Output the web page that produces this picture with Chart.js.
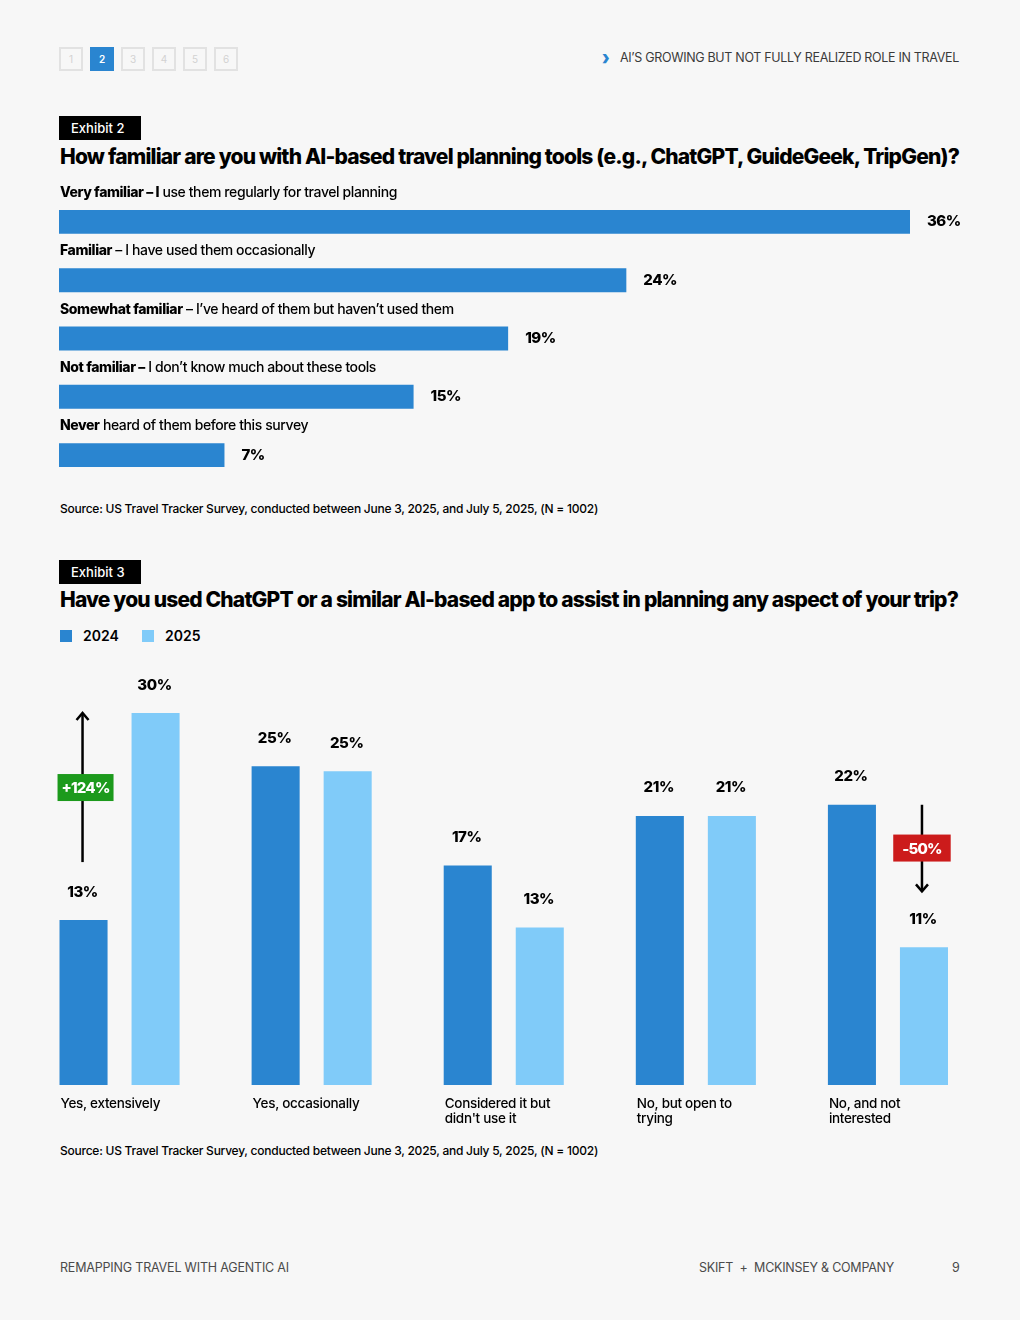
<!DOCTYPE html>
<html><head><meta charset="utf-8">
<script src="https://cdn.jsdelivr.net/npm/chart.js@4.4.1/dist/chart.umd.min.js"></script>
<style>
html,body{margin:0;padding:0;background:#f7f7f7;}
body{width:1020px;height:1320px;position:relative;overflow:hidden;font-family:Inter,"Noto Sans",sans-serif;color:#000;}
.t{position:absolute;white-space:nowrap;}
.pg{position:absolute;top:47px;width:20px;height:20px;border:2px solid #e2e2e2;color:#d2d2d2;font-size:10px;text-align:center;line-height:20px;}
.pg.on{background:#2a85d0;border-color:#2a85d0;color:#fff;font-weight:600;}
.exh{position:absolute;left:59px;width:82px;height:24px;background:#000;color:#fff;font-size:13px;font-weight:500;line-height:24px;padding-left:12px;box-sizing:border-box;}
.title{font-size:21px;font-weight:800;line-height:24px;left:60px;}
.src{font-size:12px;line-height:16px;left:60px;font-weight:500;}
.hdr{font-size:12.5px;line-height:16px;color:#3a3a3a;}
.ft{font-size:12.5px;line-height:16px;color:#4a4a4a;}
.sq{position:absolute;width:12px;height:12px;top:630px;}
.lg{font-size:14px;font-weight:600;line-height:16px;top:628px;}
canvas{position:absolute;left:0;}
</style></head>
<body>
<div class="pg" style="left:59px">1</div>
<div class="pg on" style="left:90px">2</div>
<div class="pg" style="left:121px">3</div>
<div class="pg" style="left:152px">4</div>
<div class="pg" style="left:183px">5</div>
<div class="pg" style="left:214px">6</div>
<div class="t" style="left:602px;top:47px;color:#2a85d0;font-weight:900;font-size:20px;line-height:22px;transform:scaleX(0.8);transform-origin:left;">›</div>
<div class="t hdr fit" data-w="339" style="left:620px;top:50px;">AI’S GROWING BUT NOT FULLY REALIZED ROLE IN TRAVEL</div>

<div class="exh" style="top:116px">Exhibit 2</div>
<div class="t title fit" data-w="899" style="top:145px">How familiar are you with AI-based travel planning tools (e.g., ChatGPT, GuideGeek, TripGen)?</div>
<canvas id="c1" width="1020" height="310" style="top:180px"></canvas>
<div class="t src fit" data-w="538" style="top:501px">Source: US Travel Tracker Survey, conducted between June 3, 2025, and July 5, 2025, (N = 1002)</div>

<div class="exh" style="top:560px">Exhibit 3</div>
<div class="t title fit" data-w="898" style="top:588px">Have you used ChatGPT or a similar AI-based app to assist in planning any aspect of your trip?</div>
<div class="sq" id="sq1" style="left:60px"></div><div class="t lg" style="left:83px">2024</div>
<div class="sq" id="sq2" style="left:142px"></div><div class="t lg" style="left:165px">2025</div>
<canvas id="c2" width="1020" height="480" style="top:660px"></canvas>
<div class="t src fit" data-w="538" style="top:1143px">Source: US Travel Tracker Survey, conducted between June 3, 2025, and July 5, 2025, (N = 1002)</div>

<div class="t ft fit" data-w="229" style="left:60px;top:1260px">REMAPPING TRAVEL WITH AGENTIC AI</div>
<div class="t ft fit" data-w="195" style="left:699px;top:1260px">SKIFT&nbsp; + &nbsp;MCKINSEY &amp; COMPANY</div>
<div class="t ft" style="left:952px;top:1260px">9</div>

<script>
// ---------- DATA ----------
const familiarityBold = ['Very familiar – I', 'Familiar', 'Somewhat familiar', 'Not familiar –', 'Never'];
const familiarityRest = [' use them regularly for travel planning', ' – I have used them occasionally', ' – I’ve heard of them but haven’t used them', ' I don’t know much about these tools', ' heard of them before this survey'];
const familiarityValues = [36, 24, 19, 15, 7];

const usageCategories = [['Yes, extensively'], ['Yes, occasionally'], ['Considered it but', 'didn\'t use it'], ['No, but open to', 'trying'], ['No, and not', 'interested']];
const usage2024 = [13.3, 25.7, 17.7, 21.7, 22.6];
const usage2025 = [30, 25.3, 12.7, 21.7, 11.1];
const usageLabels2024 = ['13%', '25%', '17%', '21%', '22%'];
const usageLabels2025 = ['30%', '25%', '13%', '21%', '11%'];
const usageChange = ['+124%', '', '', '', '-50%'];
const seriesNames = ['2024', '2025'];

// ---------- STYLE ----------
const DARK = '#2a85d0', LIGHT = '#80cbf9', GREEN = '#1c9a1c', RED = '#cc1b1b';
document.getElementById('sq1').style.background = DARK;
document.getElementById('sq2').style.background = LIGHT;

document.querySelectorAll('.fit').forEach(el => {
  const w = +el.dataset.w;
  const nat = el.getBoundingClientRect().width;
  const n = el.textContent.length;
  el.style.letterSpacing = ((w - nat) / n) + 'px';
});

const base = {
  responsive: false, animation: false, events: [],
  plugins: { legend: { display: false }, tooltip: { enabled: false } }
};

// ---------- CHART 1 ----------
const plug1 = {
  id: 'plug1',
  afterDatasetsDraw(chart) {
    const ctx = chart.ctx, meta = chart.getDatasetMeta(0), ys = chart.scales.y;
    const step = ys.getPixelForValue(1) - ys.getPixelForValue(0);
    ctx.save();
    ctx.textBaseline = 'middle'; ctx.textAlign = 'left'; ctx.fillStyle = '#000';
    meta.data.forEach((bar, i) => {
      const cy = bar.y - step / 2;
      let x = chart.chartArea.left + 1;
      ctx.letterSpacing = '-0.4px';
      ctx.font = '800 14px Inter';
      ctx.fillText(familiarityBold[i], x, cy);
      x += ctx.measureText(familiarityBold[i]).width;
      ctx.font = '500 14px Inter';
      ctx.fillText(familiarityRest[i], x, cy);
      ctx.letterSpacing = '-0.5px';
      ctx.font = '800 15px Inter';
      ctx.fillText(familiarityValues[i] + '%', bar.x + 17, bar.y);
    });
    ctx.restore();
  }
};
new Chart(document.getElementById('c1'), {
  type: 'bar',
  data: {
    labels: familiarityBold.map((b, i) => b + familiarityRest[i]),
    datasets: [{ data: familiarityValues, backgroundColor: DARK, borderWidth: 0, categoryPercentage: 1, barPercentage: 0.41 }]
  },
  options: Object.assign({}, base, {
    indexAxis: 'y',
    layout: { padding: { top: 12.75, bottom: 5.75, left: 59, right: 110 } },
    scales: {
      x: { display: false, min: 0, max: 36 },
      y: { display: false }
    }
  }),
  plugins: [plug1]
});

// ---------- CHART 2 ----------
const plug2 = {
  id: 'plug2',
  afterDatasetsDraw(chart) {
    const ctx = chart.ctx, ys = chart.scales.y, ca = chart.chartArea;
    const m0 = chart.getDatasetMeta(0), m1 = chart.getDatasetMeta(1);
    const lbls = [usageLabels2024, usageLabels2025];
    ctx.save();
    ctx.textBaseline = 'middle'; ctx.fillStyle = '#000';
    ctx.letterSpacing = '-0.4px';
    [m0, m1].forEach((m, d) => {
      m.data.forEach((bar, i) => {
        ctx.font = '800 15px Inter'; ctx.textAlign = 'center';
        ctx.fillText(lbls[d][i], bar.x - 1, bar.y - 28);
      });
    });
    // category labels
    ctx.letterSpacing = '-0.3px';
    m0.data.forEach((bar, i) => {
      ctx.font = '500 13.5px Inter'; ctx.textAlign = 'left';
      usageCategories[i].forEach((ln, k) => ctx.fillText(ln, bar.x - bar.width / 2 + 1, ca.bottom + 19 + k * 15));
    });
    // change annotations
    usageChange.forEach((txt, i) => {
      if (!txt) return;
      const b0 = m0.data[i], b1 = m1.data[i];
      const up = usage2025[i] > usage2024[i];
      let x, yTip, yTail;
      if (up) { x = b0.x - 1; yTip = ys.getPixelForValue(usage2025[i]); yTail = b0.y - 58; }
      else { x = b1.x - 2; yTail = ys.getPixelForValue(usage2024[i]); yTip = b1.y - 56; }
      ctx.strokeStyle = '#000'; ctx.lineWidth = 2.5; ctx.lineCap = 'butt';
      ctx.beginPath(); ctx.moveTo(x, yTail); ctx.lineTo(x, yTip); ctx.stroke();
      const dir = up ? 1 : -1;
      ctx.beginPath();
      ctx.moveTo(x - 6, yTip + dir * 7); ctx.lineTo(x, yTip); ctx.lineTo(x + 6, yTip + dir * 7);
      ctx.stroke();
      ctx.letterSpacing = '-0.8px';
      ctx.font = '800 15px Inter'; ctx.textAlign = 'center';
      const tw = ctx.measureText(txt).width;
      const bw = tw + (up ? 8 : 18), bh = 27, cy = (yTip + yTail) / 2;
      const bx = x + (up ? 3 : 0);
      ctx.fillStyle = up ? GREEN : RED;
      ctx.fillRect(bx - bw / 2, cy - bh / 2, bw, bh);
      ctx.fillStyle = '#fff';
      ctx.fillText(txt, bx, cy + 1);
      ctx.fillStyle = '#000';
    });
    ctx.restore();
  }
};
new Chart(document.getElementById('c2'), {
  type: 'bar',
  data: {
    labels: usageCategories.map(c => c.join(' ')),
    datasets: [
      { label: seriesNames[0], data: usage2024, backgroundColor: DARK, borderWidth: 0, categoryPercentage: 0.75, barPercentage: 0.667 },
      { label: seriesNames[1], data: usage2025, backgroundColor: LIGHT, borderWidth: 0, categoryPercentage: 0.75, barPercentage: 0.667 }
    ]
  },
  options: Object.assign({}, base, {
    layout: { padding: { top: 53, bottom: 55, left: 23.5, right: 36 } },
    scales: {
      x: { display: false },
      y: { display: false, min: 0, max: 30 }
    }
  }),
  plugins: [plug2]
});
</script>
</body></html>
